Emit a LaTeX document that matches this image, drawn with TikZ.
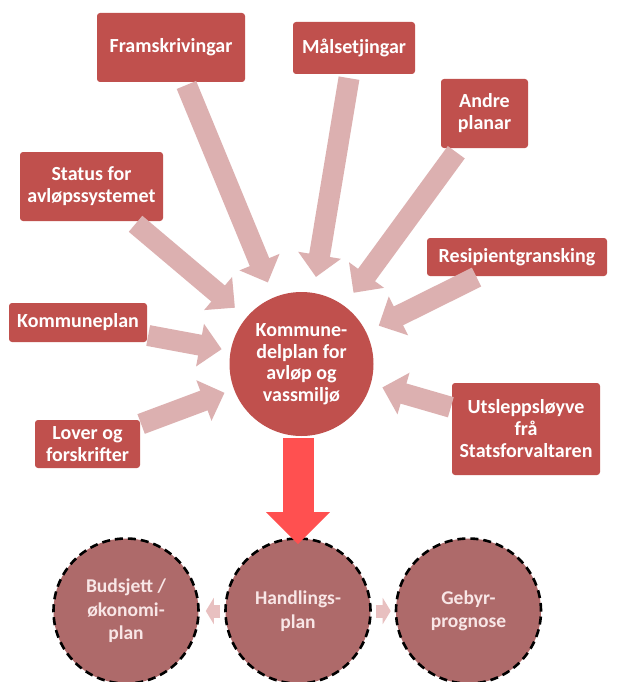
\documentclass[tikz,border=0pt]{standalone}
\usepackage{fontspec}
\setmainfont{Carlito}
\usetikzlibrary{arrows.meta,calc}
\definecolor{boxred}{HTML}{C0504D}
\definecolor{pinkarrow}{HTML}{DCB0B0}
\definecolor{lowcirc}{HTML}{AE6A6A}
\definecolor{bigred}{HTML}{FF5050}
\definecolor{smallarr}{HTML}{E8C0C0}
\definecolor{lowtext}{HTML}{F8E6E6}
\begin{document}
\begin{tikzpicture}[x=1pt,y=-1pt,
  box/.style={rectangle, rounded corners=3pt, fill=boxred, text=white,
    font=\bfseries\fontsize{20}{22}\selectfont, align=center, inner sep=0pt},
  hub/.style={circle, fill=boxred, text=white, minimum size=144pt,
    font=\bfseries\fontsize{20}{21.5}\selectfont, align=center, inner sep=0pt},
  lowc/.style={circle, fill=lowcirc, text=lowtext, minimum size=145pt,
    draw=black, line width=2.6pt, dash pattern=on 8pt off 5pt,
    font=\bfseries\fontsize{19.5}{23.5}\selectfont, align=center, inner sep=0pt},
  feed/.style={draw=pinkarrow, line width=21pt, -{Triangle[width=42pt,length=22pt]}},
  redarr/.style={draw=bigred, line width=31pt, -{Triangle[width=62pt,length=32pt]}},
  sidearr/.style={draw=smallarr, line width=13pt, -{Triangle[width=26pt,length=8pt]}}]
\useasboundingbox (0,0) rectangle (620,682);
\clip (0,0) rectangle (620,682);
\fill[white] (0,0) rectangle (620,682);

% input boxes
\node[box, minimum width=148pt, minimum height=69pt] (fr) at (171,47.5) {Framskrivingar};
\node[box, minimum width=122pt, minimum height=52pt] (ma) at (354,48) {Målsetjingar};
\node[box, minimum width=87pt, minimum height=69pt] (an) at (484.5,113.5) {Andre\\planar};
\node[box, minimum width=180pt, minimum height=38pt] (re) at (517,257) {Resipientgransking};
\node[box, minimum width=143pt, minimum height=69pt] (st) at (91.5,186.5) {Status for\\avløpssystemet};
\node[box, minimum width=138pt, minimum height=39pt] (ko) at (78,322.5) {Kommuneplan};
\node[box, minimum width=105pt, minimum height=48pt] (lo) at (87.5,444) {Lover og\\forskrifter};
\node[box, minimum width=148pt, minimum height=92pt] (ut) at (526,429) {Utsleppsløyve\\frå\\Statsforvaltaren};

% hub
\node[hub] (c) at (301.5,364) {Kommune-\\delplan for\\avløp og\\vassmiljø};

% lower circles
\node[lowc] (bu) at (126,611) {Budsjett /\\økonomi-\\plan};
\node[lowc] (ha) at (298,611) {Handlings-\\plan};
\node[lowc] (ge) at (468.5,611) {Gebyr-\\prognose};

% feeding arrows
\draw[feed, shorten <=3pt, shorten >=16pt] (fr) -- (c);
\draw[feed, shorten <=4pt, shorten >=16pt] (ma) -- (c);
\draw[feed, shorten <=5pt, shorten >=16pt] (an) -- (c);
\draw[feed, shorten <=4pt, shorten >=15pt] (st) -- (c);
\draw[feed, shorten <=1pt, shorten >=9pt] (ko) -- (c);
\draw[feed, shorten <=1pt, shorten >=10pt] (lo) -- (c);
\draw[feed, shorten <=2pt, shorten >=14pt] (re) -- (c);
\draw[feed, shorten <=1pt, shorten >=12pt] (ut) -- (c);

% side arrows
\draw[sidearr, shorten <=4pt, shorten >=6pt] (ha) -- (bu);
\draw[sidearr, shorten <=4pt, shorten >=4pt] (ha) -- (ge);

% main arrow
\draw[redarr, shorten <=2pt, shorten >=-7pt] (c.south -| ha.north) -- (ha.north);
\end{tikzpicture}
\end{document}
